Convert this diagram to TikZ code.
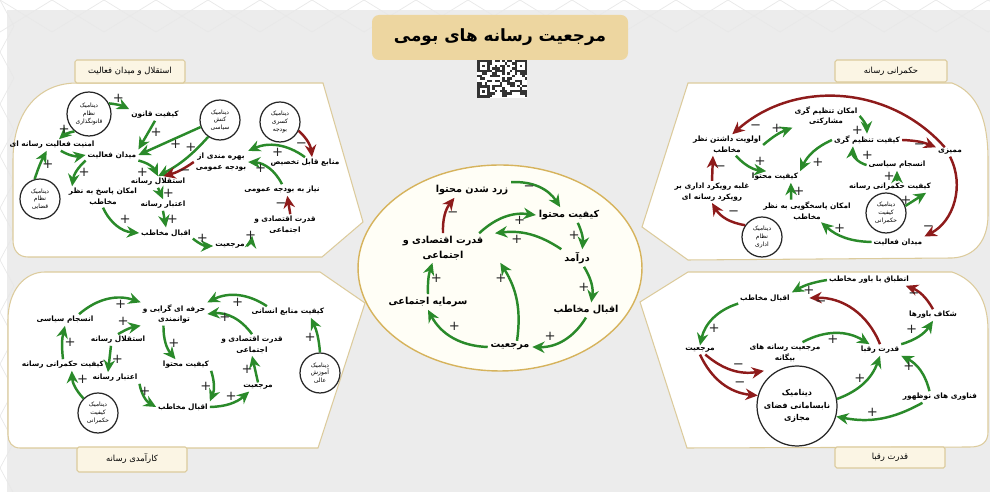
\documentclass[tikz,border=0pt]{standalone}
\usepackage{fontspec}
\newfontfamily\farsi[Script=Arabic]{DejaVu Sans}
\usetikzlibrary{arrows.meta,shapes}
\TeXXeTstate=1
\newcommand{\fatxt}[1]{\beginR #1\endR}
\newcommand{\psign}{+}
\newcommand{\msign}{−}
\definecolor{grn}{HTML}{2A8A2A}
\definecolor{rd}{HTML}{8E1B1B}
\definecolor{bggray}{HTML}{ECECEC}
\definecolor{panelline}{HTML}{DCCB9C}
\definecolor{goldbox}{HTML}{EDD6A0}
\definecolor{tabfill}{HTML}{FBF5E4}
\definecolor{ringgold}{HTML}{D6B35C}
\definecolor{ringfill}{HTML}{FFFEF6}
\tikzset{
	lbl/.style={
		font=\farsi\bfseries\fontsize{4.2}{6}\selectfont,
		align=center,
		inner sep=1pt
	},
	clbl/.style={
		font=\farsi\bfseries\fontsize{5.5}{8.3}\selectfont,
		align=center,
		inner sep=1.5pt
	},
	dyn/.style={
		circle,
		draw=black!85,
		line width=0.7pt,
		fill=white,
		align=center,
		inner sep=0pt,
		minimum size=0.8cm,
		font=\farsi\fontsize{3.4}{4.4}\selectfont
	},
	plink/.style={
		draw=grn,
		line width=1.4pt,
		-{Stealth[length=7pt,width=6.5pt]}
	},
	nlink/.style={
		draw=rd,
		line width=1.4pt,
		-{Stealth[length=7pt,width=6.5pt]}
	},
	sgn/.style={
		font=\farsi\fontsize{7.5}{7.5}\selectfont,
		text=black!85,
		inner sep=0.6pt
	},
	panel/.style={
		draw=panelline,
		fill=white,
		line width=0.6pt
	},
	tab/.style={
		draw=panelline,
		fill=tabfill,
		line width=0.6pt,
		rounded corners=1pt
	},
	tabtxt/.style={
		font=\farsi\fontsize{4.8}{6}\selectfont,
		inner sep=1pt
	}
}

\begin{document}
\begin{tikzpicture}[x=0.02cm,y=-0.02cm]
\useasboundingbox (0,0) rectangle (990,492);
\fill[white] (0,0) rectangle (990,492);
\fill[bggray] (7,10) rectangle (990,492);
% faint lattice of the page
\foreach \k in {0,...,19}{
	\draw[black!9,line width=0.4pt] (\k*52,0) -- ++(26,16) -- ++(26,-16);
	\draw[black!9,line width=0.4pt] (\k*52,32) -- ++(26,-16) -- ++(26,16);
}
\foreach \k in {0,...,9}{
	\draw[black!9,line width=0.4pt] (0,\k*52) -- ++(14,26) -- ++(-14,26);
}

% title and code
\fill[goldbox,rounded corners=4pt] (372,15) rectangle (628,60);
\node[font=\farsi\bfseries\fontsize{9.6}{11}\selectfont] (title) at (500,37) {\fatxt{مرجعیت رسانه های بومی}};
\fill[white] (477,60) rectangle (527,98);
\pgfmathsetseed{11}
\foreach \i in {0,...,19}{
	\foreach \j in {0,...,14}{
		\pgfmathrandominteger{\qbit}{0}{1}
		\ifnum\qbit=1 \fill[black!80] ({477+2.5*\i},{60+2.5*\j}) rectangle ++(2.5,2.5); \fi
	}
}
\foreach \fx/\fy in {477/60,514.5/60,477/85.5}{
	\fill[black!80] (\fx,\fy) rectangle ++(12.5,12.5);
	\fill[white] ({\fx+2.5},{\fy+2.5}) rectangle ++(7.5,7.5);
	\fill[black!80] ({\fx+5},{\fy+5}) rectangle ++(2.5,2.5);
}

% panels
\draw[panel] (77,83) -- (323,83) -- (363,222) -- (322,257) -- (28,257)
	.. controls (18,257) and (13,250) .. (13,240) -- (13,160)
	.. controls (13,110) and (40,83) .. (77,83) -- cycle;
\draw[panel] (688,83) -- (952,83) .. controls (978,93) and (988,120) .. (988,160)
	-- (988,215) .. controls (988,240) and (975,257) .. (952,258)
	-- (688,260) -- (642,227) -- cycle;
\draw[panel] (45,272) -- (320,272) -- (365,303) -- (318,448) -- (20,448)
	.. controls (12,448) and (8,442) .. (8,435) -- (8,320)
	.. controls (8,290) and (25,272) .. (45,272) -- cycle;
\draw[panel] (688,272) -- (952,272) .. controls (975,280) and (988,300) .. (988,330)
	-- (988,432) .. controls (988,442) and (982,447) .. (970,447)
	-- (687,448) -- (640,302) -- cycle;
\draw[draw=ringgold,fill=ringfill,line width=0.8pt] (500,268) ellipse [x radius=2.84cm, y radius=2.06cm];

% tabs
\draw[tab] (75,60) rectangle (185,83);
\node[tabtxt] (tabtl) at (130,71) {\fatxt{استقلال و میدان فعالیت}};
\draw[tab] (835,60) rectangle (947,82);
\node[tabtxt] (tabtr) at (891,71) {\fatxt{حکمرانی رسانه}};
\draw[tab] (77,447) rectangle (187,472);
\node[tabtxt] (tabbl) at (132,459) {\fatxt{کارآمدی رسانه}};
\draw[tab] (835,447) rectangle (945,468);
\node[tabtxt] (tabbr) at (890,457) {\fatxt{قدرت رقبا}};

% top left: independence and field of activity
\node[dyn,minimum size=0.88cm] (lq) at (89,114) {\fatxt{دینامیک}\\\fatxt{نظام}\\\fatxt{قانونگذاری}};
\node[lbl] (lqual) at (155,115) {\fatxt{کیفیت قانون}};
\node[dyn] (lpol) at (220,120) {\fatxt{دینامیک}\\\fatxt{کنش}\\\fatxt{سیاسی}};
\node[dyn] (lbud) at (280,122) {\fatxt{دینامیک}\\\fatxt{کسری}\\\fatxt{بودجه}};
\node[lbl] (lsec) at (52,145) {\fatxt{امنیت فعالیت رسانه ای}};
\node[lbl] (lfield) at (112,155) {\fatxt{میدان فعالیت}};
\node[lbl] (lbenef) at (221,162) {\fatxt{بهره مندی از}\\\fatxt{بودجه عمومی}};
\node[lbl] (lres) at (305,163) {\fatxt{منابع قابل تخصیص}};
\node[lbl] (lind) at (158,182) {\fatxt{استقلال رسانه}};
\node[lbl] (lresp) at (103,197) {\fatxt{امکان پاسخ به نظر}\\\fatxt{مخاطب}};
\node[dyn] (ljud) at (40,199) {\fatxt{دینامیک}\\\fatxt{نظام}\\\fatxt{قضایی}};
\node[lbl] (lneed) at (282,190) {\fatxt{نیاز به بودجه عمومی}};
\node[lbl] (lcred) at (163,205) {\fatxt{اعتبار رسانه}};
\node[lbl] (lecon) at (285,225) {\fatxt{قدرت اقتصادی و}\\\fatxt{اجتماعی}};
\node[lbl] (laud) at (166,233) {\fatxt{اقبال مخاطب}};
\node[lbl] (lref) at (230,246) {\fatxt{مرجعیت}};

\draw[plink] (lq.28) to[bend left=10] node[sgn,pos=.45,above] {\psign} (lqual.north west);
\draw[plink] (lq.230) to[bend right=15] node[sgn,pos=.65,above] {\psign} ([xshift=4pt]lsec.north);
\draw[plink] (lqual.south) -- node[sgn,pos=.4,right] {\psign} (lfield.north east);
\draw[plink] (lpol.200) -- node[sgn,pos=.4,below] {\psign} (lfield.east);
\draw[plink] (lpol.235) to[bend left=10] node[sgn,pos=.2,left] {\psign} (lind.north);
\draw[plink] (lfield.south east) to[bend left=25] node[sgn,pos=.5,below left] {\psign} (lind.north);
\draw[nlink] (lbenef.west) to[bend left=10] node[sgn,pos=.3,below] {\msign} ([xshift=3pt]lind.north);
\draw[plink] ([xshift=5pt]lsec.south) to[bend right=20] (lfield.west);
\draw[plink] (ljud.105) to[bend left=5] node[sgn,pos=.5,right] {\psign} ([xshift=-3pt]lsec.south);
\draw[plink] (lfield.south west) to[bend right=20] node[sgn,pos=.5,right] {\psign} ([xshift=3pt]lresp.north west);
\draw[plink] (lind.south) -- node[sgn,pos=.5,right] {\psign} (lcred.north);
\draw[plink] (lcred.south) -- node[sgn,pos=.5,right] {\psign} (laud.north);
\draw[plink] (lresp.south) to[bend right=30] node[sgn,pos=.5,above right] {\psign} (laud.west);
\draw[plink] (laud.south east) to[bend right=20] node[sgn,pos=.5,above] {\psign} (lref.west);
\draw[plink] (lref.east) to[bend right=20] node[sgn,pos=.5,above] {\psign} (lecon.south west);
\draw[nlink] ([xshift=3pt]lecon.north) -- node[sgn,pos=.5,left] {\msign} ([xshift=3pt]lneed.south);
\draw[plink] (lneed.north) to[bend right=30] node[sgn,pos=.5,left] {\psign} (lbenef.east);
\draw[plink] (lres.north) to[bend right=30] node[sgn,pos=.5,below] {\psign} (lbenef.north east);
\draw[nlink] (lbud.-25) to[bend left=20] node[sgn,pos=.6,left] {\msign} ([xshift=4pt]lres.north);

% top right: media governance
\node[lbl] (tpart) at (826,116) {\fatxt{امکان تنظیم گری}\\\fatxt{مشارکتی}};
\node[lbl] (tprio) at (727,145) {\fatxt{اولویت داشتن نظر}\\\fatxt{مخاطب}};
\node[lbl] (tqreg) at (867,140) {\fatxt{کیفیت تنظیم گری}};
\node[lbl] (tcens) at (950,152) {\fatxt{ممیزی}};
\node[lbl] (tcoh) at (897,165) {\fatxt{انسجام سیاسی}};
\node[lbl] (tcont) at (775,177) {\fatxt{کیفیت محتوا}};
\node[lbl] (tgov) at (890,187) {\fatxt{کیفیت حکمرانی رسانه}};
\node[lbl] (tadm) at (712,192) {\fatxt{غلبه رویکرد اداری بر}\\\fatxt{رویکرد رسانه ای}};
\node[lbl] (tresp) at (807,211) {\fatxt{امکان پاسخگویی به نظر}\\\fatxt{مخاطب}};
\node[dyn] (tdg) at (886,213) {\fatxt{دینامیک}\\\fatxt{کیفیت}\\\fatxt{حکمرانی}};
\node[dyn] (tda) at (762,237) {\fatxt{دینامیک}\\\fatxt{نظام}\\\fatxt{اداری}};
\node[lbl] (tfield) at (898,242) {\fatxt{میدان فعالیت}};

\draw[nlink] ([xshift=-3pt]tcens.north) to[bend right=45] node[sgn,pos=.92,below right] {\msign} ([xshift=3pt]tprio.north);
\draw[nlink] (tqreg.east) to[bend left=10] node[sgn,pos=.5,below] {\msign} (tcens.north west);
\draw[nlink] (tcens.south) to[bend left=45] node[sgn,pos=.85,left] {\msign} (tfield.north east);
\draw[plink] (tprio.east) to[bend left=10] node[sgn,pos=.5,above] {\psign} (tpart.south west);
\draw[plink] (tpart.east) to[bend left=20] node[sgn,pos=.5,below left] {\psign} (tqreg.north);
\draw[plink] (tqreg.west) to[bend right=20] node[sgn,pos=.6,below right] {\psign} (tcont.north east);
\draw[plink] ([xshift=5pt]tprio.south) to[bend right=20] node[sgn,pos=.6,above right] {\psign} ([xshift=-5pt]tcont.north);
\draw[plink] (tcoh.west) to[bend left=40] node[sgn,pos=.3,above right] {\psign} ([xshift=-8pt]tqreg.south);
\draw[plink] ([xshift=4pt]tgov.north) -- node[sgn,pos=.5,left] {\psign} (tcoh.south);
\draw[plink] ([xshift=-9pt]tresp.north) -- node[sgn,pos=.5,right] {\psign} ([xshift=9pt]tcont.south);
\draw[plink] (tdg.20) -- node[sgn,pos=.4,left] {\psign} ([xshift=-4pt]tgov.south east);
\draw[plink] (tfield.west) to[bend left=20] node[sgn,pos=.6,above] {\psign} ([xshift=8pt]tresp.south);
\draw[nlink] (tadm.north) -- node[sgn,pos=.5,right] {\msign} ([xshift=-8pt]tprio.south);
\draw[nlink] (tda.145) to[bend left=25] node[sgn,pos=.5,above right] {\msign} (tadm.south);

% centre: reference of domestic media
\node[clbl] (cyel) at (472,190) {\fatxt{زرد شدن محتوا}};
\node[clbl] (ccont) at (569,215) {\fatxt{کیفیت محتوا}};
\node[clbl] (cecon) at (443,248) {\fatxt{قدرت اقتصادی و}\\\fatxt{اجتماعی}};
\node[clbl] (cinc) at (577,258) {\fatxt{درآمد}};
\node[clbl] (csoc) at (428,302) {\fatxt{سرمایه اجتماعی}};
\node[clbl] (caud) at (586,310) {\fatxt{اقبال مخاطب}};
\node[clbl] (cref) at (510,347) {\fatxt{مرجعیت}};

\draw[plink] (cyel.north east) to[bend left=30] node[sgn,pos=.3,below] {\msign} ([xshift=-5pt]ccont.north);
\draw[nlink] (cecon.north) to[bend left=20] node[sgn,pos=.5,right] {\msign} ([xshift=-10pt]cyel.south);
\draw[plink] ([xshift=-4pt]cecon.north east) to[bend left=25] node[sgn,pos=.75,below] {\psign} (ccont.west);
\draw[plink] ([xshift=5pt]ccont.south) to[bend left=15] node[sgn,pos=.5,left] {\psign} ([xshift=3pt]cinc.north);
\draw[plink] (cinc.north west) to[bend right=20] node[sgn,pos=.7,below] {\psign} ([xshift=5pt]cecon.north east);
\draw[plink] ([xshift=4pt]cinc.south) to[bend left=20] node[sgn,pos=.6,left] {\psign} ([xshift=3pt]caud.north);
\draw[plink] (caud.south) to[bend left=30] node[sgn,pos=.6,above left] {\psign} (cref.east);
\draw[plink] ([xshift=4pt]cref.north) to[bend right=20] node[sgn,pos=.8,left] {\psign} ([xshift=8pt]cecon.south east);
\draw[plink] (cref.west) to[bend left=30] node[sgn,pos=.6,above right] {\psign} (csoc.south);
\draw[plink] (csoc.north) to[bend left=10] node[sgn,pos=.5,right] {\psign} ([xshift=-6pt]cecon.south);

% bottom left: media efficiency
\node[lbl] (bhum) at (288,312) {\fatxt{کیفیت منابع انسانی}};
\node[lbl] (bprof) at (174,314) {\fatxt{حرفه ای گرایی و}\\\fatxt{توانمندی}};
\node[lbl] (bcoh) at (65,320) {\fatxt{انسجام سیاسی}};
\node[lbl] (becon) at (252,345) {\fatxt{قدرت اقتصادی و}\\\fatxt{اجتماعی}};
\node[lbl] (bind) at (118,340) {\fatxt{استقلال رسانه}};
\node[lbl] (bgov) at (63,365) {\fatxt{کیفیت حکمرانی رسانه}};
\node[lbl] (bcont) at (186,365) {\fatxt{کیفیت محتوا}};
\node[dyn] (bdhe) at (320,373) {\fatxt{دینامیک}\\\fatxt{آموزش}\\\fatxt{عالی}};
\node[lbl] (bcred) at (115,378) {\fatxt{اعتبار رسانه}};
\node[lbl] (bref) at (258,387) {\fatxt{مرجعیت}};
\node[lbl] (baud) at (183,407) {\fatxt{اقبال مخاطب}};
\node[dyn] (bdg) at (98,413) {\fatxt{دینامیک}\\\fatxt{کیفیت}\\\fatxt{حکمرانی}};

\draw[plink] ([xshift=-12pt]bhum.north) to[bend right=30] node[sgn,pos=.5,below] {\psign} (bprof.north east);
\draw[plink] (becon.north) to[bend right=30] node[sgn,pos=.5,left] {\psign} (bprof.east);
\draw[plink] ([xshift=8pt]bcoh.north) to[bend left=30] node[sgn,pos=.7,below] {\psign} (bprof.north west);
\draw[plink] (bind.north) to[bend left=10] node[sgn,pos=.6,above left] {\psign} (bprof.south west);
\draw[plink] ([xshift=-6pt]bprof.south) to[bend right=20] node[sgn,pos=.5,right] {\psign} ([xshift=-6pt]bcont.north);
\draw[plink] (bcont.south east) to[bend left=20] node[sgn,pos=.5,left] {\psign} (baud.north east);
\draw[plink] (baud.east) to[bend right=20] node[sgn,pos=.5,above] {\psign} ([xshift=-5pt]bref.south);
\draw[plink] (bref.north) -- node[sgn,pos=.5,left] {\psign} (becon.south);
\draw[plink] (bdhe.north) to[bend right=10] node[sgn,pos=.4,left] {\psign} ([xshift=13pt]bhum.south);
\draw[plink] ([xshift=-4pt]bind.south) -- node[sgn,pos=.5,right] {\psign} ([xshift=-4pt]bcred.north);
\draw[plink] (bgov.north) to[bend left=10] node[sgn,pos=.5,right] {\psign} (bcoh.south);
\draw[plink] (bdg.135) to[bend left=20] node[sgn,pos=.5,above right] {\psign} ([xshift=5pt]bgov.south);
\draw[plink] (bcred.south east) to[bend right=25] node[sgn,pos=.5,above] {\psign} (baud.west);

% bottom right: power of rivals
\node[lbl] (rmatch) at (869,280) {\fatxt{انطباق با باور مخاطب}};
\node[lbl] (raud) at (765,298) {\fatxt{اقبال مخاطب}};
\node[lbl] (rgap) at (933,315) {\fatxt{شکاف باورها}};
\node[lbl] (rref) at (700,350) {\fatxt{مرجعیت}};
\node[lbl] (rforref) at (785,353) {\fatxt{مرجعیت رسانه های}\\\fatxt{بیگانه}};
\node[lbl] (rriv) at (880,350) {\fatxt{قدرت رقبا}};
\node[dyn,minimum size=1.6cm,font=\farsi\bfseries\fontsize{4.6}{7}\selectfont] (rdyn) at (797,406) {\fatxt{دینامیک}\\\fatxt{نابسامانی فضای}\\\fatxt{مجازی}};
\node[lbl] (rtech) at (940,397) {\fatxt{فناوری های نوظهور}};

\draw[plink] (rmatch.west) to[bend right=10] node[sgn,pos=.5,below] {\psign} (raud.north east);
\draw[nlink] (rriv.north) to[bend right=35] node[sgn,pos=.88,below] {\msign} ([xshift=10pt]raud.east);
\draw[plink] (raud.south west) to[bend right=30] node[sgn,pos=.7,right] {\psign} (rref.north);
\draw[plink] ([xshift=10pt]rforref.north) to[bend left=30] node[sgn,pos=.45,below] {\psign} ([xshift=-6pt]rriv.north);
\draw[plink] (rriv.north east) to[bend right=20] node[sgn,pos=.5,above left] {\psign} (rgap.south);
\draw[nlink] (rgap.north) to[bend right=20] node[sgn,pos=.5,left] {\msign} ([xshift=-3pt]rmatch.south east);
\draw[nlink] ([xshift=3pt]rref.south) to[bend right=25] node[sgn,pos=.6,above] {\msign} ([xshift=-12pt,yshift=-4pt]rforref.south);
\draw[nlink] (rref.south) to[bend right=30] node[sgn,pos=.65,above right] {\msign} (rdyn.165);
\draw[plink] (rdyn.10) to[bend right=25] node[sgn,pos=.6,left] {\psign} (rriv.south);
\draw[plink] ([xshift=-6pt]rtech.north) to[bend right=25] node[sgn,pos=.6,left] {\psign} (rriv.south east);
\draw[plink] ([xshift=-10pt]rtech.south) to[bend left=20] node[sgn,pos=.6,above] {\psign} (rdyn.-15);
\end{tikzpicture}
\end{document}
